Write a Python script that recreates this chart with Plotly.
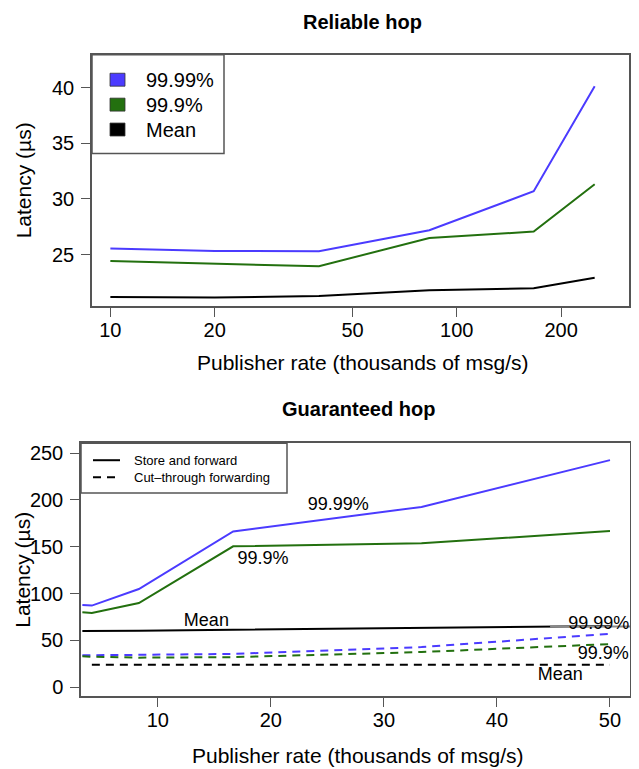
import plotly.graph_objects as go

# ---------------- data ----------------
# Reliable hop (log x)
rel_rate = [10, 20, 40, 83.3, 166.7, 250]
rel_p9999 = [25.55, 25.33, 25.3, 27.19, 30.69, 40.12]
rel_p999 = [24.43, 24.19, 23.95, 26.5, 27.07, 31.32]
rel_mean = [21.2, 21.14, 21.29, 21.8, 21.98, 22.93]
rel_xticks = [10, 20, 50, 100, 200]
rel_yticks = [25, 30, 35, 40]

# Guaranteed hop
g_rate = [3.33, 4.17, 8.33, 16.67, 33.33, 50]
g_sf_p9999 = [87.8, 87.1, 104.8, 166.4, 192.6, 242.6]
g_sf_p999 = [80.0, 79.3, 89.9, 150.5, 153.7, 166.8]
g_sf_mean = [60.0, 60.0, 60.3, 61.3, 63.5, 65.3]
g_ct_p9999 = [34.0, 34.0, 34.5, 35.5, 42.8, 57.0]
g_ct_p999 = [33.0, 32.5, 31.5, 32.0, 37.5, 46.0]
g_ct_mean = [None, 24.0, 24.0, 24.0, 24.0, 24.0]
g_mean_tail_x = [44.7, 51.8]
g_mean_tail_y = [64.9, 64.9]
g_xticks = [10, 20, 30, 40, 50]
g_yticks = [0, 50, 100, 150, 200, 250]
g_labels = ["99.99%", "99.9%", "Mean", "99.99%", "99.9%", "Mean"]
g_label_x = [25.97, 19.3, 14.3, 49.0, 49.4, 45.6]
g_label_y = [194.4, 136.7, 70.0, 66.6, 35.0, 12.7]

legend_names = ["99.99%", "99.9%", "Mean"]
guar_legend_names = ["Store and forward", "Cut\u2013through forwarding"]

# ---------------- style ----------------
OFF = 8                      # page body margin in the browser
W, H = 639 - OFF, 769 - OFF  # figure size so the page is 639x769
BLUE = "#4B3BFF"
GREEN = "#23700F"
BLACK = "#000000"
FRAME = "#555555"
FONT = "Liberation Sans"


def px(x):
    return (x - OFF) / W


def py(y):
    return 1 - (y - OFF) / H


fig = go.Figure()

# top panel traces
for ys, c in [(rel_p9999, BLUE), (rel_p999, GREEN), (rel_mean, BLACK)]:
    fig.add_trace(go.Scatter(x=rel_rate, y=ys, mode="lines", xaxis="x", yaxis="y",
                             line=dict(color=c, width=2), showlegend=False,
                             hoverinfo="skip"))

# bottom panel traces
for ys, c in [(g_sf_p9999, BLUE), (g_sf_p999, GREEN), (g_sf_mean, BLACK)]:
    fig.add_trace(go.Scatter(x=g_rate, y=ys, mode="lines", xaxis="x2", yaxis="y2",
                             line=dict(color=c, width=2), showlegend=False,
                             hoverinfo="skip"))
fig.add_trace(go.Scatter(x=g_mean_tail_x, y=g_mean_tail_y, mode="lines", xaxis="x2",
                         yaxis="y2", line=dict(color="#8a8a8a", width=2),
                         showlegend=False, hoverinfo="skip"))
for ys, c in [(g_ct_p9999, BLUE), (g_ct_p999, GREEN), (g_ct_mean, BLACK)]:
    fig.add_trace(go.Scatter(x=g_rate, y=ys, mode="lines", xaxis="x2", yaxis="y2",
                             line=dict(color=c, width=2, dash="8px,6px"),
                             showlegend=False, hoverinfo="skip", connectgaps=False))

fig.add_trace(go.Scatter(x=g_label_x, y=g_label_y, mode="text", text=g_labels,
                         xaxis="x2", yaxis="y2", textposition="middle center",
                         textfont=dict(family=FONT, size=18, color="black"),
                         showlegend=False, hoverinfo="skip", cliponaxis=False))

axis_common = dict(showline=True, linecolor=FRAME, linewidth=1.5, mirror=True,
                   ticks="outside", ticklen=9, tickwidth=1, tickcolor=FRAME,
                   showgrid=False, zeroline=False,
                   tickfont=dict(family=FONT, size=20, color="black"))

fig.update_layout(
    width=W, height=H, margin=dict(l=0, r=0, t=0, b=0),
    paper_bgcolor="white", plot_bgcolor="white", showlegend=False,
    xaxis=dict(domain=[px(92), px(629)], type="log", range=[0.947, 2.497],
               tickvals=rel_xticks, ticktext=[str(v) for v in rel_xticks],
               anchor="y", ticklabelstandoff=-4, **axis_common),
    yaxis=dict(domain=[py(306), py(54)], range=[20.4, 42.95],
               tickvals=rel_yticks, anchor="x", ticklabelstandoff=3, **axis_common),
    xaxis2=dict(domain=[px(81), px(630)], range=[3.21, 51.77],
                tickvals=g_xticks, anchor="y2", ticklabelstandoff=-4, **axis_common),
    yaxis2=dict(domain=[py(698), py(444)], range=[-9.8, 260.6],
                tickvals=g_yticks, anchor="x2", ticklabelstandoff=3, **axis_common),
)

ann = []


def text(x, y, s, size=20, bold=False, angle=0, xanchor="center"):
    ann.append(dict(x=px(x), y=py(y), xref="paper", yref="paper", text=s,
                    showarrow=False, xanchor=xanchor, yanchor="middle",
                    textangle=angle,
                    font=dict(family=FONT, size=size, color="black",
                              weight="bold" if bold else "normal")))


text(362, 21, "Reliable hop", size=20, bold=True)
text(358, 410, "Guaranteed hop", size=20, bold=True)
text(363, 363, "Publisher rate (thousands of msg/s)", size=21)
text(358, 757, "Publisher rate (thousands of msg/s)", size=21)
text(23, 180, "Latency (\u00b5s)", size=21, angle=-90)
text(23, 571, "Latency (\u00b5s)", size=21, angle=-90)

shapes = []
# top legend (manual)
shapes.append(dict(type="rect", xref="paper", yref="paper", x0=px(92), x1=px(224),
                   y0=py(153), y1=py(54), line=dict(color=FRAME, width=1.5),
                   fillcolor="white", layer="above"))
for i, (name, c) in enumerate(zip(legend_names, [BLUE, GREEN, BLACK])):
    cy = 79 + 25 * i
    shapes.append(dict(type="rect", xref="paper", yref="paper", x0=px(110), x1=px(125),
                       y0=py(cy + 6.5), y1=py(cy - 6.5), fillcolor=c,
                       line=dict(color="#333333", width=0.8), layer="above"))
    text(144, cy, name, size=20, xanchor="left")

# bottom legend (manual)
shapes.append(dict(type="rect", xref="paper", yref="paper", x0=px(81), x1=px(287),
                   y0=py(494), y1=py(444), line=dict(color=FRAME, width=1.5),
                   fillcolor="white", layer="above"))
for i, (name, d) in enumerate(zip(guar_legend_names, ["solid", "8px,6px"])):
    cy = 461 + 17 * i
    shapes.append(dict(type="line", xref="paper", yref="paper", x0=px(93), x1=px(120),
                       y0=py(cy), y1=py(cy), line=dict(color="black", width=2, dash=d),
                       layer="above"))
    text(132, cy, name, size=13, xanchor="left")

fig.update_layout(annotations=ann, shapes=shapes)
fig.write_html("out.html")
